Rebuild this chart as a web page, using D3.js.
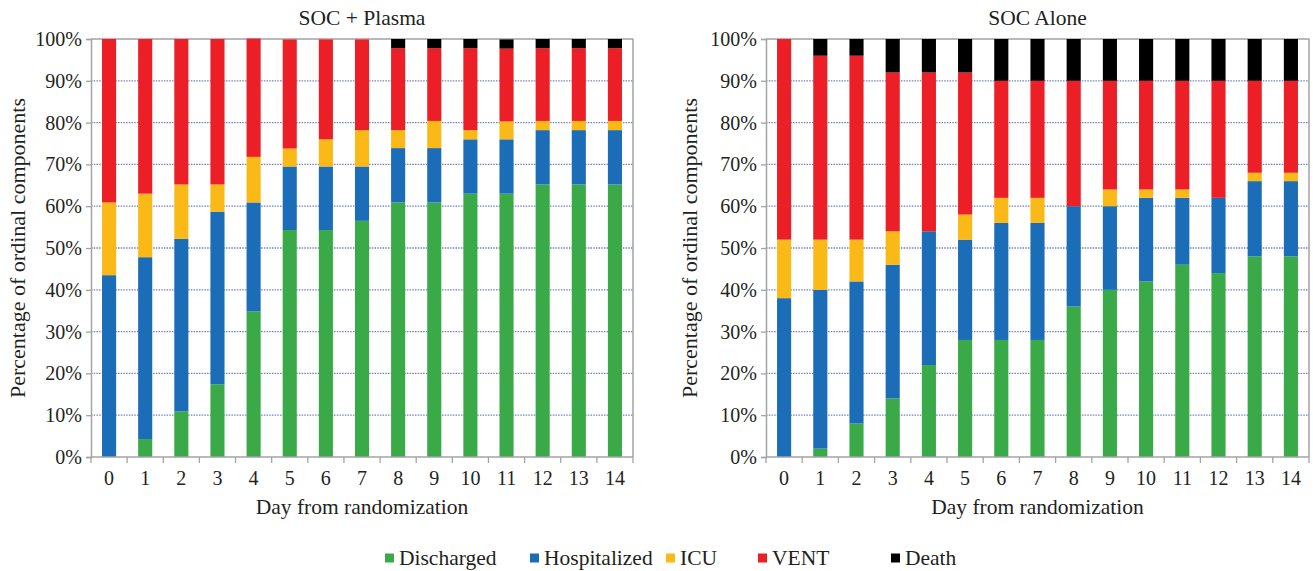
<!DOCTYPE html>
<html>
<head>
<meta charset="utf-8">
<script src="https://cdn.jsdelivr.net/npm/d3@7"></script>
<style>
  body { margin: 0; background: #fff; }
</style>
</head>
<body>
<svg id="chart"></svg>
<script>
/* stacked ordinal outcome bars, two panels */

const days = ["0","1","2","3","4","5","6","7","8","9","10","11","12","13","14"];
const categories = ["Discharged", "Hospitalized", "ICU", "VENT", "Death"];
const yTicks = [0, 10, 20, 30, 40, 50, 60, 70, 80, 90, 100];

// SOC + Plasma, percent of patients in each state per day
const plasmaDischarged   = [0, 4.3, 10.9, 17.4, 34.8, 54.3, 54.3, 56.5, 60.9, 60.9, 63.0, 63.0, 65.2, 65.2, 65.2];
const plasmaHospitalized = [43.5, 43.5, 41.3, 41.3, 26.1, 15.2, 15.2, 13.0, 13.0, 13.0, 13.0, 13.0, 13.0, 13.0, 13.0];
const plasmaICU          = [17.4, 15.2, 13.0, 6.5, 10.9, 4.3, 6.5, 8.7, 4.3, 6.5, 2.2, 4.3, 2.2, 2.2, 2.2];
const plasmaVENT         = [39.1, 37.0, 34.8, 34.8, 28.3, 26.1, 23.9, 21.7, 19.6, 17.4, 19.6, 17.4, 17.4, 17.4, 17.4];
const plasmaDeath        = [0, 0, 0, 0, 0, 0, 0, 0, 2.2, 2.2, 2.2, 2.2, 2.2, 2.2, 2.2];

// SOC alone
const socDischarged   = [0, 2, 8, 14, 22, 28, 28, 28, 36, 40, 42, 46, 44, 48, 48];
const socHospitalized = [38, 38, 34, 32, 32, 24, 28, 28, 24, 20, 20, 16, 18, 18, 18];
const socICU          = [14, 12, 10, 8, 0, 6, 6, 6, 0, 4, 2, 2, 0, 2, 2];
const socVENT         = [48, 44, 44, 38, 38, 34, 28, 28, 30, 26, 26, 26, 28, 22, 22];
const socDeath        = [0, 4, 4, 8, 8, 8, 10, 10, 10, 10, 10, 10, 10, 10, 10];

const colors = ["#3aaa48", "#1b6db8", "#fbb918", "#ec1f26", "#000000"];

const width = 1313, height = 571;
const plotTop = 39, plotBottom = 457;
const serif = '"Liberation Serif"';
const ink = "#231f20";

const svg = d3.select("#chart")
    .attr("width", width)
    .attr("height", height);

const color = d3.scaleOrdinal().domain(categories).range(colors);

const y = d3.scaleLinear()
    .domain([0, 100])
    .range([plotBottom, plotTop]);

function rows(series) {
    return days.map((d, i) => {
        const r = { day: d };
        categories.forEach((c, j) => r[c] = series[j][i]);
        return r;
    });
}

// set font on a text selection
const font = (sel, size) => sel
    .style("font-family", serif)
    .attr("font-size", size)
    .attr("fill", ink);

function panel(title, series, left, right, labelX) {
    const g = svg.append("g");

    const x = d3.scaleBand()
        .domain(days)
        .range([left, right])
        .paddingInner(0.61)
        .paddingOuter(0.305);

    // dotted gridlines
    g.append("g")
        .selectAll("line")
        .data(yTicks.filter(t => t > 0 && t < 100))
        .join("line")
        .attr("x1", left).attr("x2", right)
        .attr("y1", d => y(d)).attr("y2", d => y(d))
        .attr("stroke", "#6f83c0")
        .attr("stroke-width", 1.3)
        .attr("stroke-dasharray", "1.5,1.2");

    // frame top + right
    g.append("path")
        .attr("d", `M${left},${y(100)}H${right}V${y(0)}`)
        .attr("fill", "none")
        .attr("stroke", "#a3a3a3")
        .attr("stroke-width", 1.5);

    const stacked = d3.stack().keys(categories)(rows(series));

    g.append("g")
        .selectAll("g")
        .data(stacked)
        .join("g")
        .attr("fill", d => color(d.key))
        .selectAll("rect")
        .data(d => d)
        .join("rect")
        .attr("x", d => x(d.data.day))
        .attr("width", x.bandwidth())
        .attr("y", d => y(d[1]))
        .attr("height", d => y(d[0]) - y(d[1]));

    // y axis
    g.append("g")
        .attr("transform", `translate(${left},0)`)
        .call(d3.axisLeft(y).tickValues(yTicks).tickFormat(d => d + "%").tickSize(5).tickPadding(4))
        .call(a => a.select(".domain").attr("stroke", "#a3a3a3").attr("stroke-width", 1.5))
        .call(a => a.selectAll(".tick line").attr("stroke", "#a3a3a3").attr("stroke-width", 1.3))
        .call(a => a.selectAll("text").call(font, 20));

    // x axis: ticks between bands
    const xa = g.append("g")
        .attr("transform", `translate(0,${y(0)})`);
    xa.append("line")
        .attr("x1", left).attr("x2", right)
        .attr("stroke", "#a3a3a3").attr("stroke-width", 1.5);
    xa.selectAll(".sep")
        .data(days.concat(["end"]))
        .join("line")
        .attr("class", "sep")
        .attr("x1", (d, i) => left + i * x.step())
        .attr("x2", (d, i) => left + i * x.step())
        .attr("y1", 0).attr("y2", 6)
        .attr("stroke", "#a3a3a3").attr("stroke-width", 1.3);
    xa.selectAll(".lab")
        .data(days)
        .join("text")
        .attr("class", "lab")
        .attr("x", d => x(d) + x.bandwidth() / 2)
        .attr("y", 28)
        .attr("text-anchor", "middle")
        .call(font, 20)
        .text(d => d);

    // titles
    g.append("text")
        .attr("x", (left + right) / 2)
        .attr("y", 25)
        .attr("text-anchor", "middle")
        .call(font, 21.5)
        .text(title);

    g.append("text")
        .attr("x", (left + right) / 2)
        .attr("y", 514)
        .attr("text-anchor", "middle")
        .call(font, 21.5)
        .text("Day from randomization");

    g.append("text")
        .attr("transform", `translate(${labelX},${(plotTop + plotBottom) / 2}) rotate(-90)`)
        .attr("text-anchor", "middle")
        .call(font, 22)
        .text("Percentage of ordinal components");
}

panel("SOC + Plasma",
      [plasmaDischarged, plasmaHospitalized, plasmaICU, plasmaVENT, plasmaDeath],
      91, 633, 25);
panel("SOC Alone",
      [socDischarged, socHospitalized, socICU, socVENT, socDeath],
      766, 1309, 697);

// legend
const legendX = [385, 530, 666, 758, 891];
const legend = svg.append("g")
    .selectAll("g")
    .data(categories)
    .join("g")
    .attr("transform", (d, i) => `translate(${legendX[i]},558)`);
legend.append("rect")
    .attr("x", 0).attr("y", -4.5)
    .attr("width", 9).attr("height", 9)
    .attr("fill", d => color(d));
legend.append("text")
    .attr("x", 14).attr("y", 7)
    .call(font, 21.5)
    .text(d => d);
</script>
</body>
</html>
